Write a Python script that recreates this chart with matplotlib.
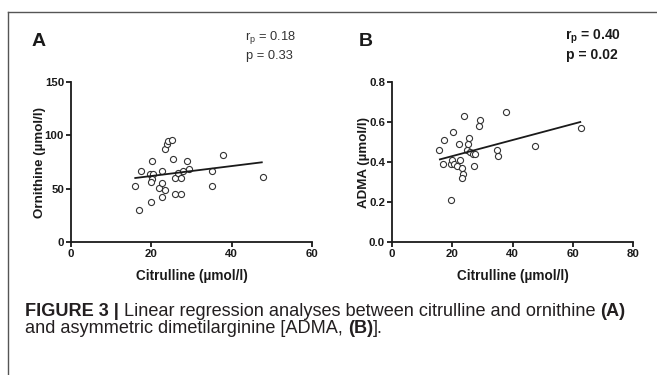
import matplotlib

matplotlib.use("Agg")
import matplotlib.pyplot as plt
from matplotlib.lines import Line2D

plt.rcParams["font.family"] = ["Liberation Sans", "DejaVu Sans"]

# panel A: citrulline vs ornithine (umol/l)
cit_a = [15.9, 17.0, 17.4, 19.8, 20.1, 19.7, 20.5, 20.1, 19.9, 21.8, 22.6, 22.6,
         22.6, 23.4, 23.3, 23.9, 24.2, 25.2, 25.4, 25.9, 25.9, 27.3, 26.7, 27.4,
         27.8, 28.9, 29.4, 35.1, 35.2, 37.8, 47.7]
orn_a = [52.5, 30.0, 67.0, 37.5, 76.0, 63.4, 64.0, 59.4, 56.0, 50.3, 42.0, 55.3,
         67.0, 48.5, 87.0, 91.5, 95.0, 96.0, 78.0, 60.0, 45.0, 45.0, 64.7, 60.0,
         67.0, 76.0, 68.7, 66.3, 52.2, 81.3, 60.6]
fit_a_x = [16.0, 47.5]
fit_a_y = [60.0, 74.7]

# panel B: citrulline vs ADMA (umol/l)
cit_b = [15.7, 16.8, 17.3, 19.7, 19.6, 19.9, 20.2, 20.5, 21.7, 22.5, 22.4, 23.3,
         23.7, 23.2, 23.9, 25.0, 25.1, 25.7, 25.9, 27.0, 27.7, 27.1, 28.8, 29.2,
         35.0, 35.1, 37.8, 47.5, 62.7]
adma_b = [0.46, 0.39, 0.51, 0.21, 0.39, 0.41, 0.55, 0.39, 0.38, 0.41, 0.49, 0.37,
          0.34, 0.32, 0.63, 0.46, 0.49, 0.52, 0.45, 0.44, 0.44, 0.38, 0.58, 0.61,
          0.46, 0.43, 0.65, 0.48, 0.57]
fit_b_x = [15.9, 62.5]
fit_b_y = [0.413, 0.600]

W, H = 657, 375
INK = "#1a1a1a"
CAPTION = "#231f20"


def fx(px):
    return px / W


def fy(py):
    return 1 - py / H


fig = plt.figure(figsize=(W / 100, H / 100), dpi=100)

# frame round the figure panel
fig.add_artist(Line2D([fx(8), 1.0], [fy(12), fy(12)], color="#555555", lw=1.0))
fig.add_artist(Line2D([fx(8), fx(8)], [fy(12), 0.0], color="#555555", lw=1.0))


def draw_panel(rect, x, y, fx_, fy_, xlim, ylim, xticks, yticks, ylabel, yfmt, ypad):
    ax = fig.add_axes(rect)
    ax.plot(x, y, "o", ms=4.4, mfc="white", mec="#333333", mew=0.8, clip_on=False)
    ax.plot(fx_, fy_, color=INK, lw=1.3)
    ax.set_xlim(*xlim)
    ax.set_ylim(*ylim)
    ax.set_xticks(xticks)
    ax.set_yticks(yticks)
    ax.set_yticklabels([yfmt.format(v) for v in yticks])
    for side in ("top", "right"):
        ax.spines[side].set_visible(False)
    for side in ("left", "bottom"):
        ax.spines[side].set_linewidth(1.3)
        ax.spines[side].set_color(INK)
    ax.tick_params(direction="out", length=3.5, width=1.3, color=INK, pad=1.5,
                   labelsize=8.2, labelcolor=INK)
    for lab in ax.get_xticklabels() + ax.get_yticklabels():
        lab.set_fontweight("bold")
    ax.set_xlabel("Citrulline (µmol/l)", fontsize=9.8, fontweight="bold",
                  color=INK, labelpad=7)
    ax.set_ylabel(ylabel, fontsize=9.6, fontweight="bold", color=INK, labelpad=ypad)
    return ax


ax_a = draw_panel([fx(71), fy(242), fx(312) - fx(71), fy(82) - fy(242)],
                  cit_a, orn_a, fit_a_x, fit_a_y, (0, 60), (0, 150),
                  [0, 20, 40, 60], [0, 50, 100, 150], "Ornithine (µmol/l)", "{:g}", -1.0)
ax_b = draw_panel([fx(392), fy(242), fx(633) - fx(392), fy(82) - fy(242)],
                  cit_b, adma_b, fit_b_x, fit_b_y, (0, 80), (0, 0.8),
                  [0, 20, 40, 60, 80], [0, 0.2, 0.4, 0.6, 0.8], "ADMA (µmol/l)", "{:.1f}", -0.5)

# panel letters and statistics
fig.text(fx(32), fy(46.5), "A", fontsize=14, fontweight="bold", color=INK)
fig.text(fx(359), fy(46.5), "B", fontsize=14, fontweight="bold", color=INK)

fig.text(fx(245), fy(40), r"r$_\mathregular{p}$ = 0.18", fontsize=9.3, color="#333333")
fig.text(fx(246), fy(59.3), "p = 0.33", fontsize=9.3, color="#333333")
fig.text(fx(565), fy(40), r"r$_\mathregular{p}$ = 0.40", fontsize=10,
         fontweight="bold", color=INK)
fig.text(fx(566), fy(59.3), "p = 0.02", fontsize=10, fontweight="bold", color=INK)

# caption, drawn piece by piece so bold and regular runs sit on one line
renderer = fig.canvas.get_renderer()
cap_size = 13.1
lines = [
    (316, [("FIGURE 3 |", "bold"),
           (" Linear regression analyses between citrulline and ornithine ", "normal"),
           ("(A)", "bold")]),
    (333, [("and asymmetric dimetilarginine [ADMA, ", "normal"),
           ("(B)", "bold"),
           ("].", "normal")]),
]
for baseline, runs in lines:
    x = 25.0
    for text, weight in runs:
        t = fig.text(fx(x), fy(baseline), text, fontsize=cap_size, fontweight=weight,
                     color=CAPTION, va="baseline")
        x += t.get_window_extent(renderer).width

fig.savefig("out.png", dpi=100)
